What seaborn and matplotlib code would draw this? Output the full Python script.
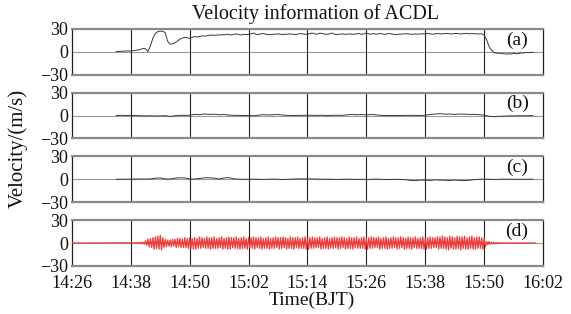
import numpy as np
import matplotlib
matplotlib.use("Agg")
import matplotlib.pyplot as plt
import seaborn as sns

# time axis: minutes after 14:26 (BJT)
tick_minutes = [0, 12, 24, 36, 48, 60, 72, 84, 96]
tick_labels = ["14:26", "14:38", "14:50", "15:02", "15:14", "15:26", "15:38", "15:50", "16:02"]
panel_names = ["(a)", "(b)", "(c)", "(d)"]

# (a) velocity, sampled every 0.5 min from t=9 to t=94
t_a = np.arange(9, 94.01, 0.5)
vel_a = [
    0.3, 0.5, 0.8, 1, 1, 1.2, 1, 1.5, 2, 2.5, 3, 4.5, 4, 0.5, 8, 18,
    24, 26.5, 27, 27, 25, 14, 10, 10.5, 12, 14, 16.5, 18, 19, 18.5, 17.5, 19,
    20, 19.5, 20, 21, 20.5, 21, 21.5, 22, 21.5, 22, 22, 22.5, 22, 23, 22.5, 22,
    23, 23.5, 22.5, 22, 23, 22.5, 23, 23.5, 24.5, 23, 22.5, 23.5, 24, 23, 22.5, 22.5,
    23, 23, 23.5, 23, 22.5, 23, 23, 23.5, 23, 22.5, 23, 24, 23.5, 23, 23, 24,
    24.5, 23.5, 23, 24.5, 24, 23, 23, 23.5, 24.5, 23, 22.5, 23, 23.5, 23, 23, 23.5,
    23, 23, 23.5, 24, 23, 23.5, 24.5, 23.5, 23, 24, 23, 23.5, 24, 23, 23, 24,
    23.5, 23, 22.5, 23, 23, 23.5, 23.5, 23.5, 23, 23, 23.5, 23, 23.5, 23.5, 23.5, 24,
    23.5, 23, 23.5, 24, 23.5, 23.5, 24, 24, 23.5, 23.5, 24, 24, 23.5, 23.5, 24, 24,
    23.5, 24, 23.5, 23.5, 23.5, 23.5, 22, 16, 7, 2, -1, -1.5, -2, -2, -2.5, -3,
    -2.5, -3, -2, -2.5, -2.5, -1.5, -1.5, -1, -1, -1, -0.5,
]

# (b) and (c) velocity, sampled every 1 min from t=9 to t=94
t_bc = np.arange(9, 94.01, 1.0)
vel_b = [
    0, 0.3, 0, 0.2, 0, -0.3, -0.5, -0.3, -0.6, -0.4,
    -0.2, -1.2, -0.3, 0.3, 0.2, 0.5, 1.5, 1.2, 2, 1.5,
    1.8, 1, 1.5, 0.5, 0.3, 0.2, 0, 0.2, -0.3, 0.5,
    1.2, 0.8, 1, 1.5, 0.5, 0.3, 0, 0.2, 0.3, 0.5,
    0.3, 0.2, 0.4, 0, 0.3, 0.4, 0.2, 0.8, 1.5, 1,
    1.3, 0.8, 1.5, 0.8, 0.3, 0, 0.2, 0.1, 0, 0.2,
    0.3, 0.2, 0, 0.5, 1.5, 2, 2.5, 1.8, 2, 1.5,
    2, 1.8, 1.5, 1.5, 1.2, 0.5, -1, -1.5, -1, -0.8,
    -0.5, -0.5, -0.3, -0.3, -0.2, 0,
]
vel_c = [
    0, 0.2, 0, 0.3, 0.2, 0.4, 0.3, 0.5, 1.5, 1.8,
    0.5, 0.3, 1.5, 2, 1.8, 0.5, 0.3, 1, 2, 2,
    1.5, 0.3, 1.8, 2.2, 0.5, 0.2, 0, 0, 0.2, 0,
    -0.2, 0, 0.2, 0, -0.3, 0, 0.3, 0.5, 0.6, 0.5,
    0.4, 0.3, 0, 0.2, 0, -0.3, 0, 0.2, 0, -0.2,
    0, -0.2, 0, 0.2, 0, -0.3, -0.2, 0, -0.3, -0.5,
    -1.5, -1.8, -1, -1.2, -1.5, -0.8, -1, -1.3, -1.5, -1,
    -1.5, -1.8, -1.2, -0.5, 0, 0.2, 0, -0.2, 0, 0.2,
    0, 0.1, 0, 0, 0.1, 0,
]

# (d) velocity, quiet start at t=0, then sampled every 0.25 min from t=12 to t=94.5
t_d = np.concatenate([[0], np.arange(12, 94.51, 0.25)])
vel_d = [0,
    0.3, -0.3, 0.5, -0.5, 0.6, -0.6, 0.8, -0.7, 1, -1, 1.2, -1.5,
    3, -3, 5, -5, 6, -6, 7, -8, 8, -7, 9, -8, 10, -9, 7, -6,
    5, -5, 4, -4, 4, -5, 5, -4, 5, -6, 6, -5, 6, -6, 5, -6,
    7, -6, 6, -7, 7, -7, 6, -8, 7, -8, 6, -7, 8, -7, 7, -6,
    6, -7, 8, -7, 7, -8, 7, -7, 8, -7, 6, -7, 7, -6, 8, -8,
    6, -7, 7, -8, 8, -8, 7, -6, 7, -7, 8, -7, 6, -8, 7, -7,
    8, -7, 6, -8, 7, -6, 7, -7, 8, -8, 7, -6, 7, -7, 8, -8,
    6, -7, 7, -7, 8, -8, 6, -7, 7, -7, 8, -6, 7, -8, 7, -7,
    8, -6, 7, -8, 6, -7, 8, -7, 7, -8, 7, -6, 8, -7, 6, -7,
    7, -7, 8, -8, 6, -8, 7, -7, 8, -7, 7, -6, 7, -6, 8, -8,
    6, -7, 7, -7, 8, -8, 6, -7, 7, -7, 8, -6, 7, -8, 7, -7,
    8, -6, 7, -8, 6, -7, 8, -7, 7, -8, 7, -6, 8, -7, 6, -7,
    7, -7, 8, -8, 6, -8, 7, -7, 8, -7, 7, -6, 7, -6, 8, -8,
    6, -7, 7, -7, 8, -8, 6, -7, 7, -7, 8, -6, 7, -8, 7, -7,
    8, -6, 7, -8, 6, -7, 8, -7, 7, -8, 7, -6, 8, -7, 6, -7,
    7, -7, 8, -8, 6, -8, 7, -7, 8, -7, 7, -6, 7, -6, 8, -8,
    8, -7, 9, -7, 8, -8, 7, -9, 9, -7, 8, -8, 7, -8, 9, -7,
    8, -9, 8, -7, 9, -8, 7, -8, 8, -7, 9, -8, 7, -8, 8, -7,
    8, -7, 7, -8, 6, -5, 2, -2, 2, -1.5, 1, -1, 1, -1, 0.8, -0.8,
    0.6, -0.6, 0.5, -0.5, 0.5, -0.4, 0.4, -0.4, 0.3, -0.3, 0.3, -0.3,
    0.3, -0.3, 0.2, -0.2, 0.2, -0.2, 0.2, -0.2, 0.2, -0.2, 0.1, -0.1,
    0.1, -0.1, 0.1, -0.1, 0.1, -0.1, 0,
]

series = [(t_a, vel_a, "#3a3a3a", 0.7), (t_bc, vel_b, "#3a3a3a", 0.7),
          (t_bc, vel_c, "#3a3a3a", 0.7), (t_d, vel_d, "#ec3a36", 0.9)]

sns.set_theme(style="white")
plt.rcParams["font.family"] = ["Liberation Serif", "DejaVu Serif"]
plt.rcParams["axes.unicode_minus"] = True

fig, axes = plt.subplots(4, 1, figsize=(5.71, 3.14), dpi=100, sharex=True)
fig.subplots_adjust(left=0.126, right=0.951, top=0.908, bottom=0.153, hspace=0.39)

for ax, (tt, vv, col, lw), name in zip(axes, series, panel_names):
    ax.axhline(0, color="#9a9a9a", lw=0.8, zorder=1)
    for m in tick_minutes[1:-1]:
        ax.axvline(m, color="#222222", lw=0.8, zorder=1)
    sns.lineplot(x=tt, y=vv, ax=ax, color=col, lw=lw, zorder=3)
    ax.set_xlim(0, 96)
    ax.set_ylim(-30, 30)
    ax.set_yticks([-30, 0, 30])
    ax.set_yticklabels(["\u221230", "0", "30"])
    ax.tick_params(axis="both", length=0, labelsize=13, pad=3, colors="#111111")
    for side in ["top", "bottom"]:
        ax.spines[side].set_color("#8a8a8a")
        ax.spines[side].set_linewidth(1.6)
    for side in ["left", "right"]:
        ax.spines[side].set_color("#222222")
        ax.spines[side].set_linewidth(0.9)
    ax.text(0.945, 0.76, name, transform=ax.transAxes, ha="center", va="center",
            fontsize=14, color="#111111")
    ax.set_ylabel("")

axes[-1].set_xticks(tick_minutes)
axes[-1].set_xticklabels(tick_labels)
axes[-1].tick_params(axis="x", pad=6.5)

fig.text(0.553, 0.955, "Velocity information of ACDL", ha="center", va="center",
         fontsize=14.5, color="#111111")
fig.text(0.546, 0.043, "Time(BJT)", ha="center", va="center", fontsize=14, color="#111111")
fig.text(0.032, 0.528, "Velocity/(m/s)", ha="center", va="center", rotation=90,
         fontsize=15, color="#111111")

fig.savefig("out.png", dpi=100)
